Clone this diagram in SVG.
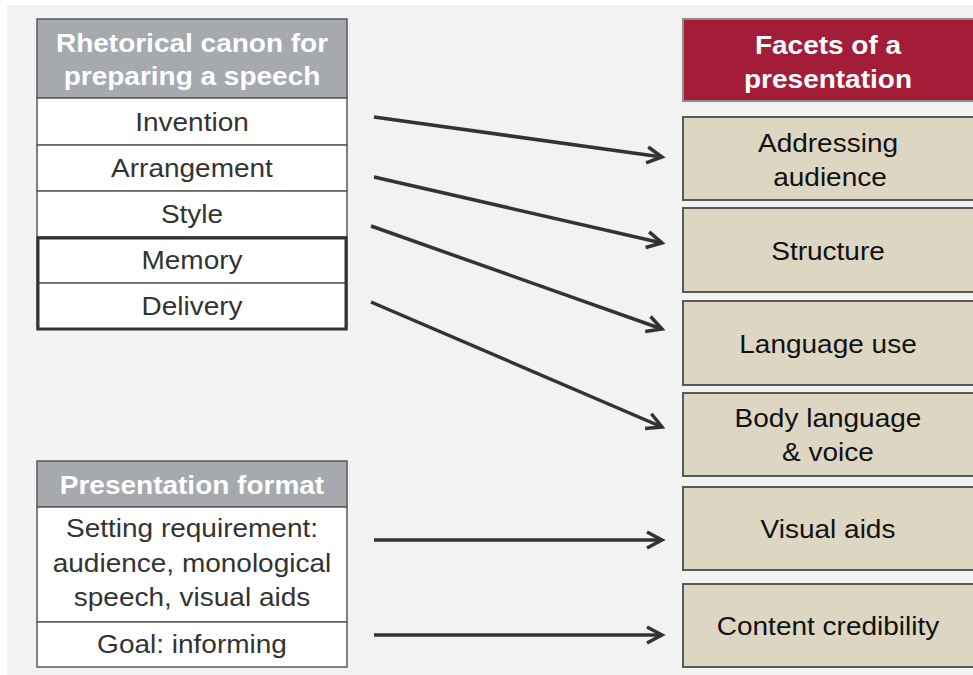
<svg xmlns="http://www.w3.org/2000/svg" width="973" height="675" viewBox="0 0 973 675">
  <style>
    text { font-family: "Liberation Sans", Arial, sans-serif; font-size: 25px; text-anchor: middle; }
    .hd { font-weight: bold; fill: #ffffff; }
    .row { fill: #333333; }
    .facet { fill: #111111; }
    .cell { fill: #ffffff; stroke: #595959; stroke-width: 1.5; }
    .ghead { fill: #a6a9ad; stroke: #595959; stroke-width: 1.5; }
    .rhead { fill: #a31d38; stroke: #8c8c8c; stroke-width: 2; }
    .tan { fill: #ddd6c3; stroke: #595959; stroke-width: 2; }
    .frame { fill: none; stroke: #333333; stroke-width: 3; }
    .link { fill: none; stroke: #333333; stroke-width: 3.5; marker-end: url(#chev); }
  </style>
  <defs>
    <marker id="chev" markerUnits="userSpaceOnUse" viewBox="0 0 22 22" refX="18" refY="11" markerWidth="22" markerHeight="22" orient="auto">
      <path d="M3,3 L18,11 L3,19" fill="none" stroke="#333333" stroke-width="3.5" stroke-linejoin="miter"/>
    </marker>
  </defs>

  <!-- page -->
  <rect x="0" y="0" width="973" height="675" fill="#ffffff"/>
  <rect x="7" y="5" width="966" height="670" fill="#f2f2f2"/>

  <!-- rhetorical canon table -->
  <g id="canon-header">
    <rect class="ghead" x="37" y="19" width="310" height="79"/>
    <text class="hd" transform="translate(192,52) scale(1.12,1)">Rhetorical canon for</text>
    <text class="hd" transform="translate(192,85) scale(1.12,1)">preparing a speech</text>
  </g>
  <g id="invention">
    <rect class="cell" x="37" y="98" width="310" height="47"/>
    <text class="row" transform="translate(192,131) scale(1.12,1)">Invention</text>
  </g>
  <g id="arrangement">
    <rect class="cell" x="37" y="145" width="310" height="46"/>
    <text class="row" transform="translate(192,177) scale(1.12,1)">Arrangement</text>
  </g>
  <g id="style">
    <rect class="cell" x="37" y="191" width="310" height="46"/>
    <text class="row" transform="translate(192,223) scale(1.12,1)">Style</text>
  </g>
  <g id="memory">
    <rect class="cell" x="37" y="237" width="310" height="46"/>
    <text class="row" transform="translate(192,269) scale(1.12,1)">Memory</text>
  </g>
  <g id="delivery">
    <rect class="cell" x="37" y="283" width="310" height="46"/>
    <text class="row" transform="translate(192,315) scale(1.12,1)">Delivery</text>
  </g>
  <rect class="frame" x="38" y="238" width="308" height="91"/>

  <!-- presentation format table -->
  <g id="format-header">
    <rect class="ghead" x="37" y="461" width="310" height="46"/>
    <text class="hd" transform="translate(192,494) scale(1.12,1)">Presentation format</text>
  </g>
  <g id="setting">
    <rect class="cell" x="37" y="507" width="310" height="115"/>
    <text class="row" transform="translate(192,537) scale(1.12,1)">Setting requirement:</text>
    <text class="row" transform="translate(192,572) scale(1.12,1)">audience, monological</text>
    <text class="row" transform="translate(192,606) scale(1.12,1)">speech, visual aids</text>
  </g>
  <g id="goal">
    <rect class="cell" x="37" y="622" width="310" height="45"/>
    <text class="row" transform="translate(192,653) scale(1.12,1)">Goal: informing</text>
  </g>

  <!-- facets column -->
  <g id="facets-header">
    <rect class="rhead" x="683" y="19" width="292" height="82"/>
    <text class="hd" transform="translate(828,54) scale(1.12,1)">Facets of a</text>
    <text class="hd" transform="translate(828,88) scale(1.12,1)">presentation</text>
  </g>
  <g id="addressing">
    <rect class="tan" x="683" y="117" width="292" height="83"/>
    <text class="facet" transform="translate(828,152) scale(1.12,1)">Addressing</text>
    <text class="facet" transform="translate(830,186) scale(1.12,1)">audience</text>
  </g>
  <g id="structure">
    <rect class="tan" x="683" y="208" width="292" height="84"/>
    <text class="facet" transform="translate(828,260) scale(1.12,1)">Structure</text>
  </g>
  <g id="language">
    <rect class="tan" x="683" y="301" width="292" height="84"/>
    <text class="facet" transform="translate(828,353) scale(1.12,1)">Language use</text>
  </g>
  <g id="body">
    <rect class="tan" x="683" y="393" width="292" height="83"/>
    <text class="facet" transform="translate(828,427) scale(1.12,1)">Body language</text>
    <text class="facet" transform="translate(828,461) scale(1.12,1)">&amp; voice</text>
  </g>
  <g id="visual">
    <rect class="tan" x="683" y="487" width="292" height="83"/>
    <text class="facet" transform="translate(828,538) scale(1.12,1)">Visual aids</text>
  </g>
  <g id="credibility">
    <rect class="tan" x="683" y="584" width="292" height="83"/>
    <text class="facet" transform="translate(828,635) scale(1.12,1)">Content credibility</text>
  </g>

  <!-- connectors -->
  <g id="connectors">
    <line class="link" x1="374" y1="117" x2="662" y2="157"/>
    <line class="link" x1="374" y1="177" x2="662" y2="243"/>
    <line class="link" x1="371" y1="226" x2="662" y2="329"/>
    <line class="link" x1="371" y1="302" x2="662" y2="427"/>
    <line class="link" x1="374" y1="540" x2="662" y2="540"/>
    <line class="link" x1="374" y1="635" x2="662" y2="635"/>
  </g>
</svg>
